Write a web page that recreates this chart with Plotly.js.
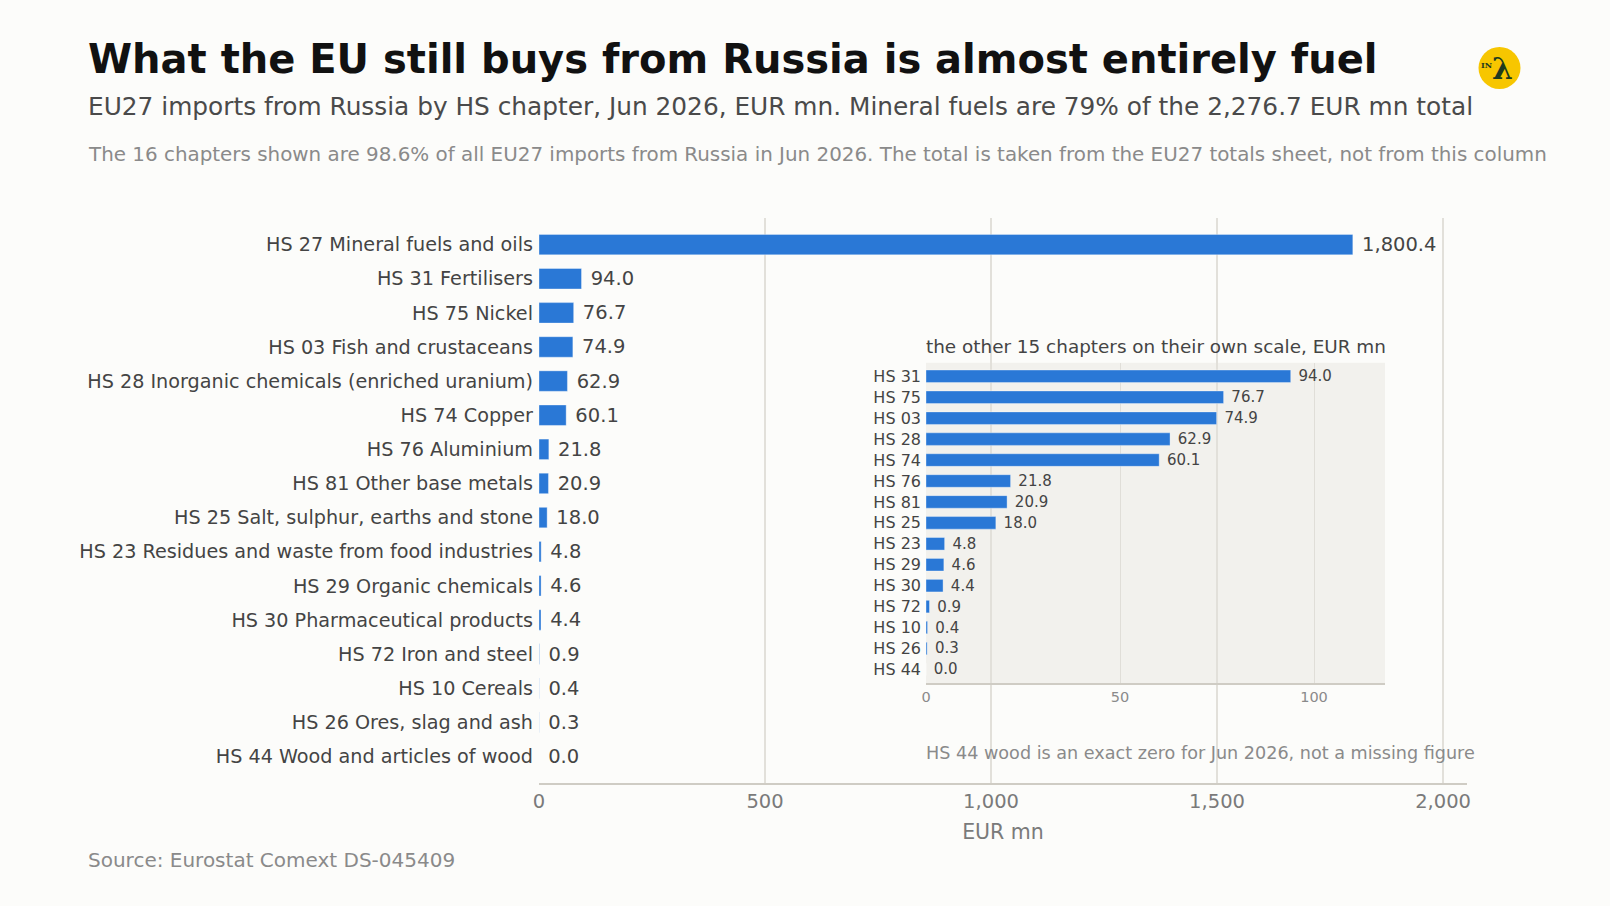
<!DOCTYPE html>
<html>
<head>
<meta charset="utf-8">
<script src="https://cdn.plot.ly/plotly-3.0.1.min.js"></script>
<style>
  html, body { margin: 0; padding: 0; background: #fcfcfa; }
  #chart { width: 1610px; height: 906px; }
</style>
</head>
<body>
<div id="chart"></div>
<script>
// ---- data ----
const mainLabels = [
  "HS 27 Mineral fuels and oils",
  "HS 31 Fertilisers",
  "HS 75 Nickel",
  "HS 03 Fish and crustaceans",
  "HS 28 Inorganic chemicals (enriched uranium)",
  "HS 74 Copper",
  "HS 76 Aluminium",
  "HS 81 Other base metals",
  "HS 25 Salt, sulphur, earths and stone",
  "HS 23 Residues and waste from food industries",
  "HS 29 Organic chemicals",
  "HS 30 Pharmaceutical products",
  "HS 72 Iron and steel",
  "HS 10 Cereals",
  "HS 26 Ores, slag and ash",
  "HS 44 Wood and articles of wood"
];
const mainValues = [1800.4, 94.0, 76.7, 74.9, 62.9, 60.1, 21.8, 20.9, 18.0, 4.8, 4.6, 4.4, 0.9, 0.4, 0.3, 0.0];

const insetLabels = ["HS 31", "HS 75", "HS 03", "HS 28", "HS 74", "HS 76", "HS 81", "HS 25",
                     "HS 23", "HS 29", "HS 30", "HS 72", "HS 10", "HS 26", "HS 44"];
const insetValues = [94.0, 76.7, 74.9, 62.9, 60.1, 21.8, 20.9, 18.0, 4.8, 4.6, 4.4, 0.9, 0.4, 0.3, 0.0];

const mainTicks = [0, 500, 1000, 1500, 2000];
const mainTickText = ["0", "500", "1,000", "1,500", "2,000"];
const insetTicks = [0, 50, 100];

// ---- geometry (pixels) ----
const W = 1610, H = 906;
const L = 539, R = 143, T = 218, B = 123;
const PW = W - L - R, PH = H - T - B;
const px = x => (x - L) / PW;
const py = y => (H - B - y) / PH;

const BLUE = "#2a78d6";
const FONT = "DejaVu Sans, Verdana, sans-serif";
const NB = "\u00a0";

const traces = [
  {
    type: "bar", orientation: "h",
    x: mainValues, y: mainLabels,
    xaxis: "x", yaxis: "y",
    marker: { color: BLUE, line: { color: "rgba(255,255,255,0.35)", width: 1 } },
    texttemplate: NB + "%{x:,.1f}",
    textposition: "outside",
    constraintext: "none",
    cliponaxis: false,
    textfont: { family: FONT, size: 19.5, color: "#444444" },
    hoverinfo: "x+y"
  },
  {
    type: "bar", orientation: "h",
    x: insetValues, y: insetLabels,
    xaxis: "x2", yaxis: "y2",
    marker: { color: BLUE, line: { color: "rgba(255,255,255,0.35)", width: 1 } },
    texttemplate: NB + "%{x:.1f}",
    textposition: "outside",
    constraintext: "none",
    cliponaxis: false,
    textfont: { family: FONT, size: 15, color: "#444444" },
    hoverinfo: "x+y"
  }
];

function ann(text, x, y, size, color, extra) {
  return Object.assign({
    text: text, xref: "paper", yref: "paper",
    x: px(x), y: py(y), xanchor: "left", yanchor: "middle",
    showarrow: false,
    font: { family: FONT, size: size, color: color }
  }, extra || {});
}

const layout = {
  width: W, height: H,
  paper_bgcolor: "#fcfcfa",
  plot_bgcolor: "rgba(0,0,0,0)",
  margin: { l: L, r: R, t: T, b: B, pad: 0 },
  showlegend: false,
  bargap: 0.4,
  font: { family: FONT },
  xaxis: {
    domain: [0, 1],
    range: [0, 2053],
    tickvals: mainTicks, ticktext: mainTickText,
    showgrid: true, gridcolor: "#e2e0da", gridwidth: 1.5,
    zeroline: false,
    showline: true, linecolor: "#cfccc4", linewidth: 1.5,
    ticks: "", ticklen: 0,
    tickfont: { family: FONT, size: 19.5, color: "#7a7a7a" },
    title: { text: "EUR mn", font: { family: FONT, size: 20.5, color: "#7a7a7a" }, standoff: 12 },
    fixedrange: true
  },
  yaxis: {
    domain: [0, 1],
    type: "category",
    range: [15.78, -0.78],
    showgrid: false, zeroline: false, showline: false,
    ticks: "", ticklen: 0,
    tickfont: { family: FONT, size: 19.2, color: "#444444" },
    ticklabelstandoff: 5,
    fixedrange: true
  },
  xaxis2: {
    domain: [px(926), px(1385)],
    anchor: "y2",
    range: [0, 118.3],
    tickvals: insetTicks,
    showgrid: true, gridcolor: "#e0ded8", gridwidth: 1,
    zeroline: false,
    showline: true, linecolor: "#cfccc4", linewidth: 1.5,
    ticks: "", ticklen: 0,
    tickfont: { family: FONT, size: 14.5, color: "#8a8a8a" },
    fixedrange: true
  },
  yaxis2: {
    domain: [py(683), py(362.7)],
    anchor: "x2",
    type: "category",
    range: [14.65, -0.65],
    showgrid: false, zeroline: false, showline: false,
    ticks: "", ticklen: 0,
    tickfont: { family: FONT, size: 16, color: "#444444" },
    ticklabelstandoff: 4,
    fixedrange: true
  },
  shapes: [
    { type: "rect", xref: "paper", yref: "paper", layer: "below",
      x0: px(926), x1: px(1385), y0: py(683), y1: py(362.7),
      fillcolor: "#f2f1ed", line: { width: 0 } },
    { type: "circle", xref: "paper", yref: "paper",
      xsizemode: "pixel", ysizemode: "pixel",
      xanchor: px(1499.5), yanchor: py(68),
      x0: -21, x1: 21, y0: -21, y1: 21,
      fillcolor: "#f7c600", line: { width: 0 } }
  ],
  annotations: [
    ann("<b>What the EU still buys from Russia is almost entirely fuel</b>", 86, 59, 40, "#111111"),
    ann("EU27 imports from Russia by HS chapter, Jun 2026, EUR mn. Mineral fuels are 79% of the 2,276.7 EUR mn total", 86, 106, 24.8, "#4a4a4a"),
    ann("The 16 chapters shown are 98.6% of all EU27 imports from Russia in Jun 2026. The total is taken from the EU27 totals sheet, not from this column", 86, 154, 19.9, "#8a8a8a"),
    ann("the other 15 chapters on their own scale, EUR mn", 924, 346, 18.4, "#444444"),
    ann("HS 44 wood is an exact zero for Jun 2026, not a missing figure", 924, 753, 17.6, "#8a8a8a"),
    ann("Source: Eurostat Comext DS-045409", 86, 860, 20, "#8a8a8a"),
    ann("<b>λ</b>", 1502, 68, 30, "#1e3a1e", { xanchor: "center", font: { family: "DejaVu Serif, serif", size: 30, color: "#1e3a1e" } }),
    ann("<b>IN</b>", 1486, 65, 8, "#1e3a1e", { xanchor: "center", font: { family: "DejaVu Serif, serif", size: 8, color: "#1e3a1e" } })
  ]
};

Plotly.newPlot("chart", traces, layout, { displayModeBar: false, staticPlot: true });
</script>
</body>
</html>
